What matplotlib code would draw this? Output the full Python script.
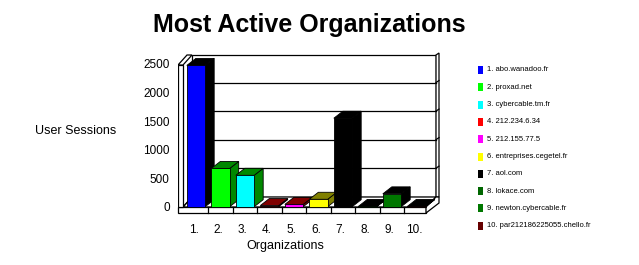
import matplotlib
matplotlib.use("Agg")
import matplotlib.pyplot as plt
from matplotlib.patches import Polygon, Rectangle
from matplotlib.transforms import ScaledTranslation

plt.rcParams['font.family'] = ['Liberation Sans', 'DejaVu Sans']

# ---- data ----
categories = ["1.", "2.", "3.", "4.", "5.", "6.", "7.", "8.", "9.", "10."]
organizations = ["abo.wanadoo.fr", "proxad.net", "cybercable.tm.fr", "212.234.6.34",
                 "212.155.77.5", "entreprises.cegetel.fr", "aol.com", "lokace.com",
                 "newton.cybercable.fr", "par212186225055.chello.fr"]
sessions = [2475, 670, 550, 20, 40, 130, 1550, 5, 225, 5]
yticks = [0, 500, 1000, 1500, 2000, 2500]

front_colors = ["#0000ff", "#00ff00", "#00ffff", "#ff0000", "#ff00ff",
                "#ffff00", "#000000", "#006600", "#007700", "#660000"]
side_colors = ["#000000", "#008800", "#008800", "#800000", "#800000",
               "#808000", "#000000", "#000000", "#000000", "#000000"]

W, H = 639, 265
fig = plt.figure(figsize=(W / 100, H / 100), dpi=100)
fig.patch.set_facecolor("white")

# axes placed on pixel box
L, R, T, B = 178, 442, 50, 216
X0, XS = 196.0, 24.5      # pixel of category 0, pixels per category
Y0, YS = 206.7, 0.05708   # pixel of value 0, pixels per unit


def px2x(px):
    return (px - X0) / XS


def py2v(py):
    return (Y0 - py) / YS


ax = fig.add_axes([L / W, 1 - B / H, (R - L) / W, (B - T) / H])
ax.set_xlim(px2x(L), px2x(R))
ax.set_ylim(py2v(B), py2v(T))
for s in ax.spines.values():
    s.set_visible(False)
ax.set_facecolor("none")

lw = 0.9
# back wall
DX, DY = 10, 10
bw = Polygon([(px2x(192), py2v(197)), (px2x(436), py2v(197)),
              (px2x(436), py2v(55)), (px2x(192), py2v(55))],
             closed=True, facecolor="white", edgecolor="black", lw=lw, zorder=1)
ax.add_patch(bw)
for v in yticks[1:-1]:
    yb = py2v(Y0 - v * YS - DY)
    ax.plot([px2x(192), px2x(436)], [yb, yb], color="black", lw=lw, zorder=1.1)
    ax.plot([px2x(436), px2x(439)], [yb, py2v(Y0 - v * YS - DY - 2)],
            color="black", lw=lw, zorder=1.1, clip_on=False)

# floor top and front
floor_top = Polygon([(px2x(183), py2v(207)), (px2x(426), py2v(207)),
                     (px2x(436), py2v(197)), (px2x(192), py2v(197))],
                    closed=True, facecolor="white", edgecolor="black", lw=lw, zorder=1.2)
ax.add_patch(floor_top)
floor_front = Polygon([(px2x(178), py2v(207)), (px2x(426), py2v(207)),
                       (px2x(426), py2v(213)), (px2x(178), py2v(213))],
                      closed=True, facecolor="white", edgecolor="black", lw=lw,
                      zorder=1.3, clip_on=False)
ax.add_patch(floor_front)
floor_side = Polygon([(px2x(426), py2v(207)), (px2x(436), py2v(197)),
                      (px2x(439), py2v(197)), (px2x(439), py2v(203)),
                      (px2x(426), py2v(213))],
                     closed=True, facecolor="white", edgecolor="black", lw=lw,
                     zorder=1.3, clip_on=False)
ax.add_patch(floor_side)
for i in range(len(categories) - 1):
    xb = i + 0.5
    ax.plot([xb, xb], [py2v(207), py2v(213)], color="black", lw=lw, zorder=1.35,
            clip_on=False)

# right wall
rw = Polygon([(px2x(436), py2v(197)), (px2x(436), py2v(55)), (px2x(439), py2v(53)),
              (px2x(439), py2v(197))],
             closed=True, facecolor="white", edgecolor="black", lw=lw, zorder=1.05,
             clip_on=False)
ax.add_patch(rw)

# left wall
lwall_front = Polygon([(px2x(178), py2v(65)), (px2x(183), py2v(65)),
                       (px2x(183), py2v(207)), (px2x(178), py2v(207))],
                      closed=True, facecolor="white", edgecolor="black", lw=lw, zorder=5)
ax.add_patch(lwall_front)
lwall_top = Polygon([(px2x(178), py2v(65)), (px2x(187), py2v(55)),
                     (px2x(192), py2v(55)), (px2x(183), py2v(65))],
                    closed=True, facecolor="white", edgecolor="black", lw=lw, zorder=5)
ax.add_patch(lwall_top)
ax.plot([px2x(183), px2x(192)], [py2v(207), py2v(197)], color="black", lw=lw, zorder=1.25)

# bars
bw_ = 0.75
ddx = 9 / XS
ddy = 7 / YS
xs = list(range(len(categories)))
ax.bar(xs, sessions, width=bw_, color=front_colors, edgecolor="black",
       linewidth=0.6, zorder=3)
for x, v, sc in zip(xs, sessions, side_colors):
    xl, xr = x - bw_ / 2, x + bw_ / 2
    side = Polygon([(xr, 0), (xr + ddx, ddy), (xr + ddx, v + ddy), (xr, v)],
                   closed=True, facecolor=sc, edgecolor="black", lw=0.6, zorder=2.9)
    top = Polygon([(xl, v), (xr, v), (xr + ddx, v + ddy), (xl + ddx, v + ddy)],
                  closed=True, facecolor=sc, edgecolor="black", lw=0.6, zorder=2.9)
    ax.add_patch(side)
    ax.add_patch(top)

# ticks & labels
ax.set_yticks(yticks)
ax.set_yticklabels([str(t) for t in yticks], fontsize=8.5)
ax.tick_params(axis="y", length=0, pad=6)
ax.set_xticks(xs)
ax.set_xticklabels(categories, fontsize=8.5)
ax.tick_params(axis="x", length=0, pad=6)
shift = ScaledTranslation(-2.5 / 100, 0, fig.dpi_scale_trans)
for lbl in ax.get_xticklabels():
    lbl.set_transform(lbl.get_transform() + shift)

ax.set_ylabel("User Sessions", fontsize=9, rotation=0, ha="center", va="center")
ax.yaxis.set_label_coords((76 - L) / (R - L), (B - 131) / (B - T))
ax.set_xlabel("Organizations", fontsize=9, ha="center", va="center")
ax.xaxis.set_label_coords((285 - L) / (R - L), (B - 246) / (B - T))

fig.text(309 / W, 1 - 25 / H, "Most Active Organizations", fontsize=18,
         fontweight="bold", ha="center", va="center")

# legend
leg_y0, leg_dy = 70, 17.3
for i, (c, name, col) in enumerate(zip(categories, organizations, front_colors)):
    yc = leg_y0 + i * leg_dy
    fig.add_artist(Rectangle((478 / W, 1 - (yc + 4) / H), 5 / W, 8 / H,
                             transform=fig.transFigure, facecolor=col,
                             edgecolor="none"))
    fig.text(487 / W, 1 - yc / H, f"{c} {name}", fontsize=5.5,
             ha="left", va="center")

fig.savefig("out.png", dpi=100, facecolor="white")
